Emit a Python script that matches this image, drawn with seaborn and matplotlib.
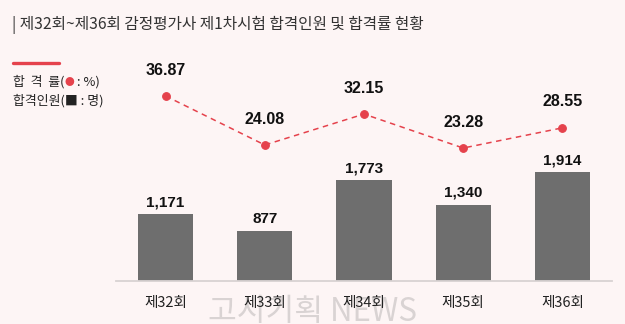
import matplotlib
matplotlib.use("Agg")
import matplotlib.pyplot as plt
import seaborn as sns

rounds = ["제32회", "제33회", "제34회", "제35회", "제36회"]
passers = [1171, 877, 1773, 1340, 1914]
pass_rates = [36.87, 24.08, 32.15, 23.28, 28.55]
passer_labels = ["1,171", "877", "1,773", "1,340", "1,914"]
rate_labels = ["36.87", "24.08", "32.15", "23.28", "28.55"]

title = "| 제32회~제36회 감정평가사 제1차시험 합격인원 및 합격률 현황"
legend_rate = ["합  격  률(", "●", " : %)"]
legend_count = "합격인원(■ : 명)"
watermark = "고시기획 NEWS"

BG = "#FDF5F5"
BAR = "#6E6E6E"
RED = "#E5424C"
DARK = "#222222"

sns.set_theme(style="white")
plt.rcParams["font.family"] = ["Noto Sans CJK KR", "DejaVu Sans"]
NUMFONT = ["Liberation Sans", "DejaVu Sans"]

fig = plt.figure(figsize=(6.25, 3.24), dpi=100, facecolor=BG)
ax = fig.add_axes([116 / 625, 1 - 281 / 324, 496 / 625, 231 / 324])
ax.set_facecolor("none")

sns.barplot(x=rounds, y=passers, ax=ax, color=BAR, saturation=1, width=0.555,
            edgecolor="none", zorder=2)
ax.set_ylim(0, 231 / 0.05695)
ax.set_xlim(-0.5, 4.5)
for s in ["top", "left", "right"]:
    ax.spines[s].set_visible(False)
ax.spines["bottom"].set_color("#D8D2D2")
ax.spines["bottom"].set_linewidth(1.3)
ax.set_yticks([])
ax.set_ylabel("")
ax.set_xlabel("")
ax.tick_params(axis="x", length=0, pad=11, labelsize=10.5, labelcolor=DARK)

for i, (v, lab) in enumerate(zip(passers, passer_labels)):
    ax.annotate(lab, (i, v), xytext=(0, 8.6), textcoords="offset points",
                ha="center", va="center", fontsize=11, fontweight="bold",
                color="#111111", family=NUMFONT)

ax2 = ax.twinx()
ax2.set_facecolor("none")
sns.pointplot(x=rounds, y=pass_rates, ax=ax2, color=RED, markers="o",
              linestyles="--", errorbar=None, markersize=5.5, linewidth=1.1)
for ln in ax2.lines:
    ln.set_dashes((3.6, 3.0))
ax2.set_ylim(-11.44, 48.88)
ax2.set_xlim(-0.5, 4.5)
ax2.set_yticks([])
ax2.set_ylabel("")
ax2.set_xlabel("")
for s in ["top", "left", "right", "bottom"]:
    ax2.spines[s].set_visible(False)
ax2.tick_params(axis="x", length=0, labelbottom=False)

for i, (v, lab) in enumerate(zip(pass_rates, rate_labels)):
    ax2.annotate(lab, (i, v), xytext=(0, 18.7), textcoords="offset points",
                 ha="center", va="center", fontsize=11.5, fontweight="bold",
                 color="#111111", family=NUMFONT)

# Title
fig.text(12 / 625, 1 - 25 / 324, title, ha="left", va="center",
         fontsize=11.3, color="#333333")

# Legend block
fig.add_artist(plt.Line2D([13 / 625, 59 / 625], [1 - 63 / 324, 1 - 63 / 324],
                          color=RED, linewidth=2.4, transform=fig.transFigure))
fig.canvas.draw()
r = fig.canvas.get_renderer()
x = 13
cols = [DARK, RED, DARK]
sizes = [9.3, 7.0, 9.3]
for part, c, fs in zip(legend_rate, cols, sizes):
    t = fig.text(x / 625, 1 - 82 / 324, part, ha="left", va="center",
                 fontsize=fs, color=c)
    bb = t.get_window_extent(renderer=r)
    x = bb.x1
fig.text(13 / 625, 1 - 101 / 324, legend_count, ha="left", va="center",
         fontsize=9.3, color=DARK)

# Watermark
fig.text(312 / 625, 1 - 312 / 324, watermark, ha="center", va="center",
         fontsize=22.5, color="#D9D3D3", fontweight="light", zorder=-5)

fig.savefig("out.png", dpi=100, facecolor=BG)
